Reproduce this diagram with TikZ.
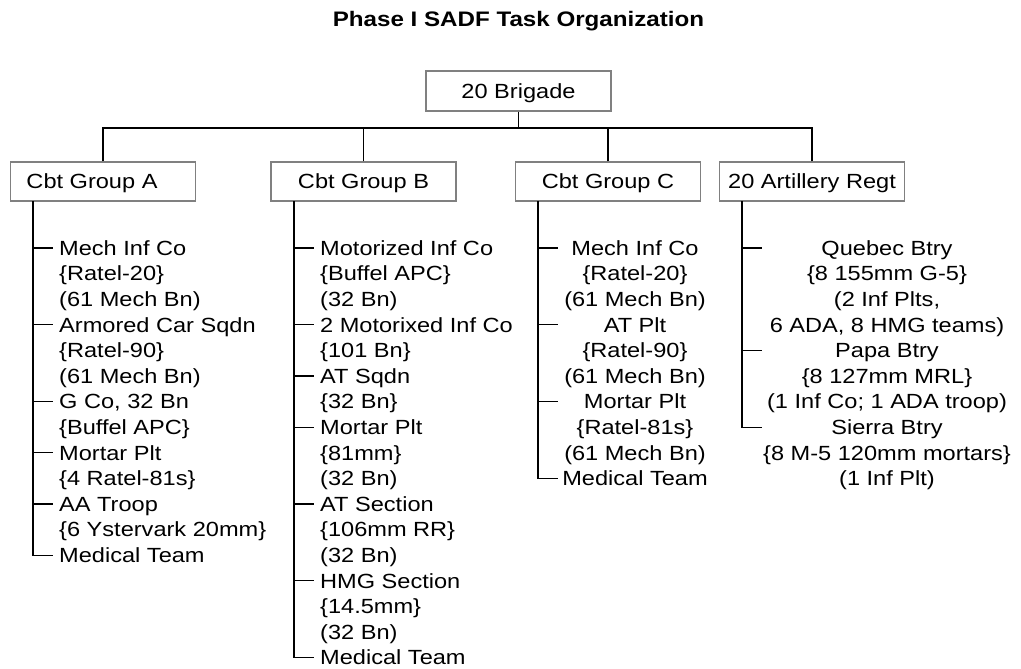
\documentclass[tikz,border=0pt]{standalone}
\usepackage{fontspec}
\setmainfont[FakeStretch=1.15]{Liberation Sans}
\newcommand{\Lcol}[1]{\vtop{\halign{##\hfil\cr#1\crcr}}}
\newcommand{\Ccol}[1]{\vtop{\halign{\hfil##\hfil\cr#1\crcr}}}
\definecolor{boxgray}{RGB}{128,128,128}
\tikzset{
  unitbox/.style={draw=boxgray, line width=1.5pt, inner sep=0pt, minimum width=185pt,
    minimum height=39pt, text height=14.7pt, text depth=0pt, font=\fontsize{20.5}{25.6}\selectfont},
  itemL/.style={inner sep=0pt, anchor=base west, font=\fontsize{20.5}{25.6}\selectfont},
  itemC/.style={inner sep=0pt, anchor=base, font=\fontsize{20.5}{25.6}\selectfont},
  conn/.style={line width=1.3pt, black},
  titlestyle/.style={inner sep=0pt, anchor=base, font=\fontsize{21}{25.6}\selectfont\bfseries}
}
\begin{document}
\begin{tikzpicture}[x=1pt, y=-1pt]
\useasboundingbox (0,0) rectangle (1021,669);

\node[titlestyle] (title) at (518.5,27) {Phase I SADF Task Organization};

% top level
\node[unitbox, minimum height=40pt] (brig) at (518.5,91) {20 Brigade};
\node[unitbox] (gA) at (103,181.5) {Cbt Group A\hspace*{22pt}};
\node[unitbox] (gB) at (363.5,181.5) {Cbt Group B};
\node[unitbox] (gC) at (608,181.5) {Cbt Group C};
\node[unitbox] (gD) at (812,181.5) {20 Artillery Regt};

\coordinate (bus) at (518.5,128);
\draw[conn] (brig.south) -- (bus);
\draw[conn] (gA.north) |- (bus);
\draw[conn] (gB.north) |- (bus);
\draw[conn] (gC.north) |- (bus);
\draw[conn] (gD.north) |- (bus);

% Column A
\node[itemL] (a1) at (59,255.3) {\Lcol{Mech Inf Co\cr \{Ratel-20\}\cr (61 Mech Bn)}};
\node[itemL] (a2) at (59,332.1) {\Lcol{Armored Car Sqdn\cr \{Ratel-90\}\cr (61 Mech Bn)}};
\node[itemL] (a3) at (59,408.9) {\Lcol{G Co, 32 Bn\cr \{Buffel APC\}}};
\node[itemL] (a4) at (59,460.1) {\Lcol{Mortar Plt\cr \{4 Ratel-81s\}}};
\node[itemL] (a5) at (59,511.3) {\Lcol{AA Troop\cr \{6 Ystervark 20mm\}}};
\node[itemL] (a6) at (59,562.5) {Medical Team};
\coordinate (tA) at (33,201);
\coordinate (a1t) at (53,248);
\coordinate (a2t) at (53,324.8);
\coordinate (a3t) at (53,401.6);
\coordinate (a4t) at (53,452.8);
\coordinate (a5t) at (53,504);
\coordinate (a6t) at (53,555.2);
\draw[conn] (tA) |- (a6t);
\foreach \i in {1,...,5} \draw[conn] (tA |- a\i t) -- (a\i t);

% Column B
\node[itemL] (b1) at (320,255.3) {\Lcol{Motorized Inf Co\cr \{Buffel APC\}\cr (32 Bn)}};
\node[itemL] (b2) at (320,332.1) {\Lcol{2 Motorixed Inf Co\cr \{101 Bn\}}};
\node[itemL] (b3) at (320,383.3) {\Lcol{AT Sqdn\cr \{32 Bn\}}};
\node[itemL] (b4) at (320,434.5) {\Lcol{Mortar Plt\cr \{81mm\}\cr (32 Bn)}};
\node[itemL] (b5) at (320,511.3) {\Lcol{AT Section\cr \{106mm RR\}\cr (32 Bn)}};
\node[itemL] (b6) at (320,588.1) {\Lcol{HMG Section\cr \{14.5mm\}\cr (32 Bn)}};
\node[itemL] (b7) at (320,664.9) {Medical Team};
\coordinate (tB) at (294,201);
\coordinate (b1t) at (314,248);
\coordinate (b2t) at (314,324.8);
\coordinate (b3t) at (314,376);
\coordinate (b4t) at (314,427.2);
\coordinate (b5t) at (314,504);
\coordinate (b6t) at (314,580.8);
\coordinate (b7t) at (314,657.6);
\draw[conn] (tB) |- (b7t);
\foreach \i in {1,...,6} \draw[conn] (tB |- b\i t) -- (b\i t);

% Column C
\node[itemC] (c1) at (635,255.3) {\Ccol{Mech Inf Co\cr \{Ratel-20\}\cr (61 Mech Bn)}};
\node[itemC] (c2) at (635,332.1) {\Ccol{AT Plt\cr \{Ratel-90\}\cr (61 Mech Bn)}};
\node[itemC] (c3) at (635,408.9) {\Ccol{Mortar Plt\cr \{Ratel-81s\}\cr (61 Mech Bn)}};
\node[itemC] (c4) at (635,485.7) {Medical Team};
\coordinate (tC) at (538,201);
\coordinate (c1t) at (558,248);
\coordinate (c2t) at (558,324.8);
\coordinate (c3t) at (558,401.6);
\coordinate (c4t) at (558,478.4);
\draw[conn] (tC) |- (c4t);
\foreach \i in {1,...,3} \draw[conn] (tC |- c\i t) -- (c\i t);

% Column D
\node[itemC] (d1) at (887,255.3) {\Ccol{Quebec Btry\cr \{8 155mm G-5\}\cr (2 Inf Plts,\cr 6 ADA, 8 HMG teams)}};
\node[itemC] (d2) at (887,357.7) {\Ccol{Papa Btry\cr \{8 127mm MRL\}\cr (1 Inf Co; 1 ADA troop)}};
\node[itemC] (d3) at (887,434.5) {\Ccol{Sierra Btry\cr \{8 M-5 120mm mortars\}\cr (1 Inf Plt)}};
\coordinate (tD) at (742,201);
\coordinate (d1t) at (762,248);
\coordinate (d2t) at (762,350.4);
\coordinate (d3t) at (762,427.2);
\draw[conn] (tD) |- (d3t);
\foreach \i in {1,2} \draw[conn] (tD |- d\i t) -- (d\i t);
\end{tikzpicture}
\end{document}
